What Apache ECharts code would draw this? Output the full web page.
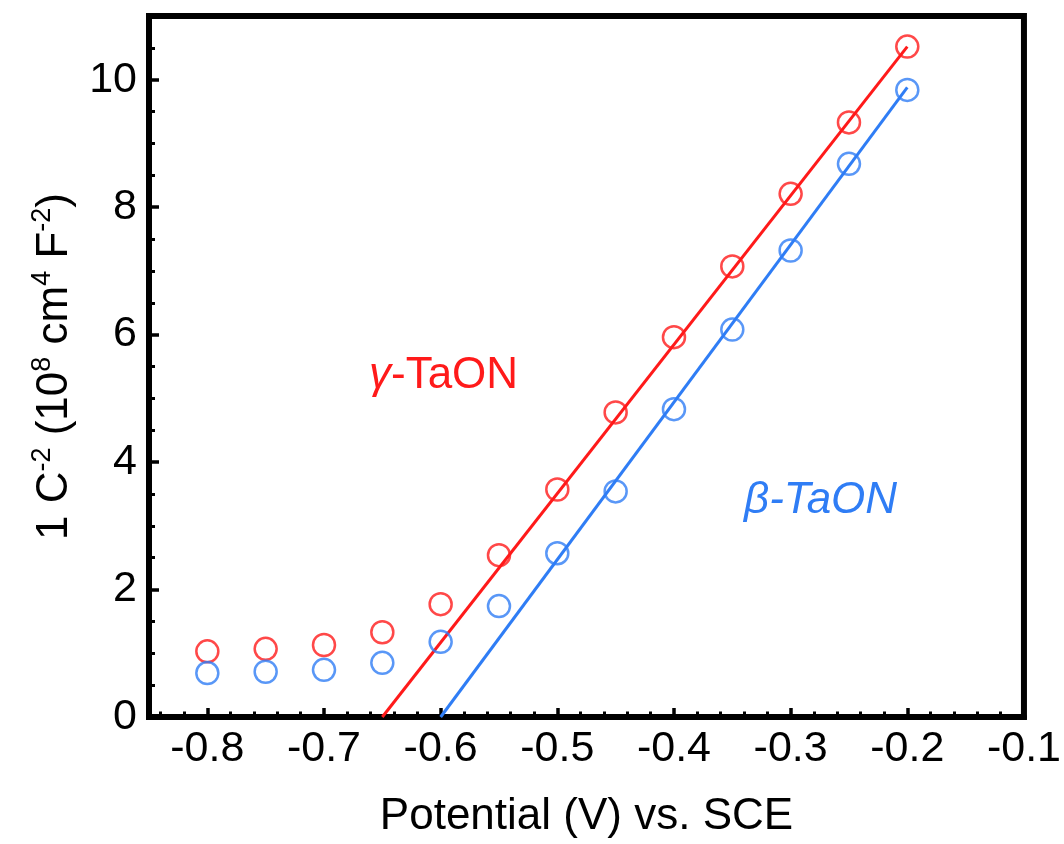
<!DOCTYPE html>
<html>
<head>
<meta charset="utf-8">
<script src="https://cdn.jsdelivr.net/npm/echarts@6/dist/echarts.min.js"></script>
<style>html,body{margin:0;padding:0;background:#fff}#c{width:1064px;height:844px}</style>
</head>
<body>
<div id="c"></div>
<script>
var potentials = [-0.8, -0.75, -0.7, -0.65, -0.6, -0.55, -0.5, -0.45, -0.4, -0.35, -0.3, -0.25, -0.2];
var gammaValues = [1.03, 1.07, 1.13, 1.33, 1.77, 2.54, 3.57, 4.78, 5.96, 7.07, 8.21, 9.33, 10.52];
var betaValues  = [0.69, 0.71, 0.74, 0.85, 1.18, 1.74, 2.57, 3.54, 4.83, 6.08, 7.32, 8.68, 9.84];
var gammaFit = [[-0.65, 0], [-0.2, 10.52]];
var betaFit  = [[-0.6, 0], [-0.2, 9.88]];
var xTicks = [-0.8, -0.7, -0.6, -0.5, -0.4, -0.3, -0.2, -0.1];
var xMinorTicks = [-0.84, -0.82, -0.78, -0.76, -0.74, -0.72, -0.68, -0.66, -0.64, -0.62, -0.58, -0.56, -0.54, -0.52,
  -0.48, -0.46, -0.44, -0.42, -0.38, -0.36, -0.34, -0.32, -0.28, -0.26, -0.24, -0.22, -0.18, -0.16, -0.14, -0.12];
var yTicks = [0, 2, 4, 6, 8, 10];
var yMinorTicks = [0.5, 1, 1.5, 2.5, 3, 3.5, 4.5, 5, 5.5, 6.5, 7, 7.5, 8.5, 9, 9.5, 10.5];

var RED = '#ff1a1a', BLUE = '#2f7df5';
var FONT = 'Liberation Sans, Arial, sans-serif';

function pairs(xs, ys) { return xs.map(function (x, i) { return [x, ys[i]]; }); }

var xBase = { type: 'value', min: -0.85, max: -0.1, splitLine: { show: false }, gridIndex: 0 };
var yBase = { type: 'value', min: 0, max: 11, splitLine: { show: false }, gridIndex: 0 };

var chart = echarts.init(document.getElementById('c'));
chart.setOption({
  animation: false,
  backgroundColor: '#fff',
  grid: { left: 149, right: 38, top: 16, bottom: 127, show: true, borderColor: '#000', borderWidth: 6, backgroundColor: 'transparent' },
  xAxis: [
    Object.assign({}, xBase, {
      position: 'bottom',
      name: 'Potential (V) vs. SCE', nameLocation: 'middle', nameGap: 78,
      nameTextStyle: { fontFamily: FONT, fontSize: 44, color: '#000' },
      axisLine: { show: true, lineStyle: { color: '#000', width: 6 } },
      axisTick: { show: true, inside: true, length: 9, customValues: xTicks, lineStyle: { color: '#000', width: 3.5 } },
      axisLabel: { fontFamily: FONT, fontSize: 43, color: '#000', margin: 11, customValues: xTicks,
        formatter: function (v) { return String(+v.toFixed(2)); } }
    }),
    Object.assign({}, xBase, {
      position: 'bottom', offset: 0,
      axisLine: { show: false },
      axisTick: { show: true, inside: true, length: 5.5, customValues: xMinorTicks, lineStyle: { color: '#000', width: 3 } },
      axisLabel: { show: false }
    })
  ],
  yAxis: [
    Object.assign({}, yBase, {
      position: 'left',
      name: '{n|1 C}{s|-2}{n| (10}{s|8}{n| cm}{s|4}{n| F}{s|-2}{n|)}',
      nameLocation: 'middle', nameGap: 72, nameRotate: 90,
      nameTextStyle: { fontFamily: FONT, fontSize: 44, color: '#000',
        rich: {
          n: { fontFamily: FONT, fontSize: 44, color: '#000', lineHeight: 50, verticalAlign: 'bottom' },
          s: { fontFamily: FONT, fontSize: 27, color: '#000', lineHeight: 50, verticalAlign: 'bottom', padding: [0, 0, 21, 0] }
        } },
      axisLine: { show: true, lineStyle: { color: '#000', width: 6 } },
      axisTick: { show: true, inside: true, length: 10, customValues: yTicks, lineStyle: { color: '#000', width: 3.5 } },
      axisLabel: { fontFamily: FONT, fontSize: 43, color: '#000', margin: 12, customValues: yTicks,
        formatter: function (v) { return String(v); } }
    }),
    Object.assign({}, yBase, {
      position: 'left', offset: 0,
      axisLine: { show: false },
      axisTick: { show: true, inside: true, length: 6, customValues: yMinorTicks, lineStyle: { color: '#000', width: 3 } },
      axisLabel: { show: false }
    })
  ],
  series: [
    { type: 'line', data: gammaFit, showSymbol: false, lineStyle: { color: RED, width: 3 }, z: 2 },
    { type: 'line', data: betaFit, showSymbol: false, lineStyle: { color: BLUE, width: 3 }, z: 2 },
    { type: 'scatter', data: pairs(potentials, gammaValues), symbol: 'circle', symbolSize: 22,
      itemStyle: { color: 'rgba(0,0,0,0)', borderColor: RED, borderWidth: 2.5 }, z: 3 },
    { type: 'scatter', data: pairs(potentials, betaValues), symbol: 'circle', symbolSize: 22,
      itemStyle: { color: 'rgba(0,0,0,0)', borderColor: BLUE, borderWidth: 2.5 }, z: 3 }
  ],
  graphic: [
    { type: 'text', left: 369, top: 354, style: { text: '{i|γ}-TaON', fill: RED, font: '44px ' + FONT,
      rich: { i: { fontStyle: 'italic', fontFamily: FONT, fontSize: 44, fill: RED } } } },
    { type: 'text', left: 744, top: 479, style: { text: 'β-TaON', fill: BLUE, font: 'italic 44px ' + FONT } }
  ]
});
</script>
</body>
</html>
